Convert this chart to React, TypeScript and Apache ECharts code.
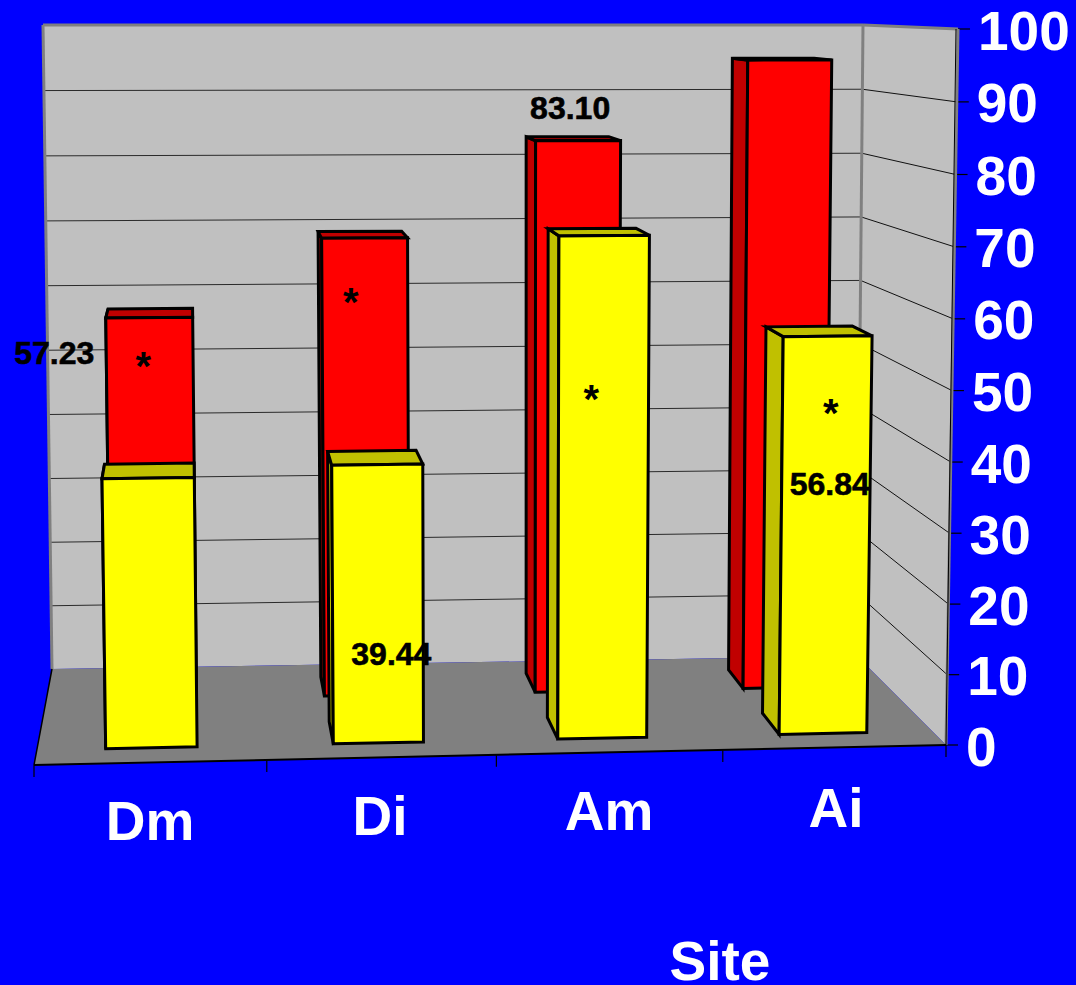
import React, { useEffect, useRef } from "react";
import * as echarts from "echarts";

const sites = ["Dm", "Di", "Am", "Ai"];
const redValues = [57.23, 68.8, 83.1, 95];
const yellowValues = [38, 39.44, 71.25, 56.84];
const yTicks = [0, 10, 20, 30, 40, 50, 60, 70, 80, 90, 100];
const axisTitle = "Site";

// Which bars carry a printed value and which carry a significance star.
const redShown = [true, false, true, false];
const yellowShown = [false, true, false, true];
const redStar = [true, true, false, false];
const yellowStar = [false, false, true, true];

// Offsets of annotations from the top centre of the bar's front face.
const redValueOffset: [number, number][] = [[-95, 35], [0, 0], [-8, -33], [0, 0]];
const yellowValueOffset: [number, number][] = [[0, 0], [14, 189], [0, 0], [2, 148]];
const redStarOffset: [number, number][] = [[-6, 48], [-14, 64], [0, 0], [0, 0]];
const yellowStarOffset: [number, number][] = [[0, 0], [0, 0], [-13, 163], [3, 77]];

const FONT = "'Liberation Sans', Arial, sans-serif";
const BLUE = "#0000FF";
const WALL = "#C0C0C0";
const FLOOR = "#808080";

type Pt = [number, number];

// Corners of the chart box on screen: Front/Back, Bottom/Top, Left/Right.
const FBL: Pt = [34, 765];
const FBR: Pt = [946, 745];
const FTL: Pt = [22, 30];
const FTR: Pt = [958, 29];
const BBL: Pt = [52, 669];
const BBR: Pt = [857, 656];
const BTL: Pt = [43, 25];
const BTR: Pt = [863, 25];

const lerp = (a: number, b: number, t: number) => a + (b - a) * t;
const lerpPt = (a: Pt, b: Pt, t: number): Pt => [lerp(a[0], b[0], t), lerp(a[1], b[1], t)];

// u: across the floor, d: depth into the box, v: height; all in 0..1.
// The small quadratic terms stand in for the foreshortening of a true perspective.
function project(u: number, d: number, v: number): Pt {
  const w = u + 0.028 * u * (1 - u);
  const h = v - 0.02 * v * (1 - v);
  const frontB = lerpPt(FBL, FBR, w);
  const frontT = lerpPt(FTL, FTR, w);
  const backB = lerpPt(BBL, BBR, w);
  const backT = lerpPt(BTL, BTR, w);
  return lerpPt(lerpPt(frontB, backB, d), lerpPt(frontT, backT, d), h);
}

const poly = (points: Pt[], fill: string, stroke: string | null, lineWidth = 0) => ({
  type: "polygon",
  shape: { points },
  style: { fill, stroke: stroke ?? "none", lineWidth, lineJoin: "miter" },
});

const seg = (a: Pt, b: Pt, stroke: string, lineWidth: number) => ({
  type: "line",
  shape: { x1: a[0], y1: a[1], x2: b[0], y2: b[1] },
  style: { stroke, lineWidth },
});

const note = (text: string, at: Pt, fontSize: number, lineWidth: number) => ({
  type: "text",
  x: at[0],
  y: at[1],
  style: {
    text,
    fill: "#000",
    stroke: "#000",
    lineWidth,
    fontFamily: FONT,
    fontWeight: "bold",
    fontSize,
    align: "center",
    verticalAlign: "middle",
  },
});

function renderFrame(params: any, api: any) {
  const grid = params.coordSys;
  const vOf = (val: number) => (grid.y + grid.height - api.coord([0, val])[1]) / grid.height;
  const children: any[] = [];

  children.push(poly([BTL, BTR, BBR, BBL], WALL, null));
  children.push(poly([BTR, FTR, FBR, BBR], WALL, null));
  children.push(poly([BBL, BBR, FBR, FBL], FLOOR, null));

  yTicks.forEach((t) => {
    const v = vOf(t);
    if (t > 0 && t < 100) {
      children.push(seg(project(0, 1, v), project(1, 1, v), "#2a2a2a", 1));
      children.push(seg(project(1, 1, v), project(1, 0, v), "#111", 1));
    }
    const p = project(1, 0, v);
    children.push(seg(p, [p[0] + 12, p[1]], "#000", 1.2));
    // Tick labels follow the slanted front edge of the box.
    children.push({
      type: "text",
      x: p[0] + 20,
      y: p[1] + 1.5,
      style: {
        text: String(t),
        fill: "#fff",
        fontFamily: FONT,
        fontWeight: "bold",
        fontSize: 55,
        align: "left",
        verticalAlign: "middle",
      },
    });
  });

  children.push(seg(BTL, BTR, FLOOR, 3));
  children.push(seg(BTL, BBL, FLOOR, 3));
  children.push(seg(BTR, FTR, FLOOR, 3));
  children.push(seg(BTR, BBR, FLOOR, 3));
  children.push(seg(FTR, FBR, FLOOR, 3));
  children.push(seg([FTR[0] - 2, FTR[1]], [FBR[0], FBR[1]], "#000", 1));

  children.push(seg(FBL, BBL, "#000", 1.5));
  children.push(seg(FBL, FBR, "#000", 2));
  [0, 1, 2, 3, 4].forEach((k) => {
    const p = project(k / 4, 0, 0);
    children.push(seg(p, [p[0], p[1] + 12], "#000", 1.2));
  });

  return { type: "group", children };
}

function barRenderer(opts: {
  front: string;
  side: string;
  d0: number;
  d1: number;
  shown: boolean[];
  stars: boolean[];
  valueOffset: [number, number][];
  starOffset: [number, number][];
}) {
  return (params: any, api: any) => {
    const grid = params.coordSys;
    const i = api.value(0);
    const value = api.value(1);
    const base = api.coord([i, 0]);
    const top = api.coord([i, value]);
    const half = api.size([1, 0])[0] * 0.2;
    const u = (base[0] - grid.x) / grid.width;
    const hw = half / grid.width;
    const v = (base[1] - top[1]) / grid.height;
    const { d0, d1 } = opts;
    const u0 = u - hw;
    const u1 = u + hw;

    const children: any[] = [
      poly(
        [project(u0, d1, 0), project(u0, d0, 0), project(u0, d0, v), project(u0, d1, v)],
        opts.side,
        "#000",
        3,
      ),
      poly(
        [project(u0, d0, v), project(u1, d0, v), project(u1, d1, v), project(u0, d1, v)],
        opts.side,
        "#000",
        3,
      ),
      poly(
        [project(u0, d0, 0), project(u1, d0, 0), project(u1, d0, v), project(u0, d0, v)],
        opts.front,
        "#000",
        3,
      ),
    ];

    const c = project(u, d0, v);
    if (opts.shown[i]) {
      const o = opts.valueOffset[i];
      children.push(note(value.toFixed(2), [c[0] + o[0], c[1] + o[1]], 32, 0.6));
    }
    if (opts.stars[i]) {
      const o = opts.starOffset[i];
      children.push(note("*", [c[0] + o[0], c[1] + o[1]], 40, 0));
    }
    return { type: "group", children };
  };
}

const xLabelPad = [
  [13, 0, 0, 4],
  [8, 0, 0, 8],
  [3, 0, 0, 10],
  [0, 0, 0, 8],
];

const bigText = { color: "#fff", fontFamily: FONT, fontWeight: "bold" as const, fontSize: 55 };

export default function App() {
  const ref = useRef<HTMLDivElement>(null);

  useEffect(() => {
    const chart = echarts.init(ref.current!, null, { renderer: "svg" });
    const xRich: Record<string, any> = {};
    sites.forEach((s, i) => {
      xRich[s] = { ...bigText, padding: xLabelPad[i] };
    });

    chart.setOption({
      animation: false,
      backgroundColor: BLUE,
      grid: {
        left: 34,
        width: 912,
        top: 30,
        height: 715,
        containLabel: false,
        outerBoundsMode: "none",
      },
      xAxis: {
        type: "category",
        data: sites,
        axisLine: { show: false },
        axisTick: { show: false },
        axisLabel: {
          margin: 35,
          interval: 0,
          ...bigText,
          formatter: (s: string) => `{${s}|${s}}`,
          rich: xRich,
        },
        name: axisTitle,
        nameLocation: "middle",
        nameGap: 196,
        nameTextStyle: { ...bigText, lineHeight: 40, padding: [0, 0, 0, 460] },
      },
      yAxis: {
        type: "value",
        position: "right",
        min: 0,
        max: 100,
        interval: 10,
        splitLine: { show: false },
        axisLine: { show: false },
        axisTick: { show: false },
        axisLabel: { show: false },
      },
      series: [
        {
          type: "custom",
          name: "frame",
          data: [[0, 0]],
          silent: true,
          renderItem: renderFrame,
        },
        {
          type: "custom",
          name: "Red",
          data: redValues.map((val, i) => [i, val]),
          renderItem: barRenderer({
            front: "#FF0000",
            side: "#C00000",
            d0: 0.665,
            d1: 0.87,
            shown: redShown,
            stars: redStar,
            valueOffset: redValueOffset,
            starOffset: redStarOffset,
          }),
        },
        {
          type: "custom",
          name: "Yellow",
          data: yellowValues.map((val, i) => [i, val]),
          renderItem: barRenderer({
            front: "#FFFF00",
            side: "#C0C000",
            d0: 0.155,
            d1: 0.39,
            shown: yellowShown,
            stars: yellowStar,
            valueOffset: yellowValueOffset,
            starOffset: yellowStarOffset,
          }),
        },
      ],
    });
    return () => chart.dispose();
  }, []);

  return (
    <div
      ref={ref}
      style={{ position: "absolute", left: 0, top: 0, width: 1076, height: 985 }}
    />
  );
}
